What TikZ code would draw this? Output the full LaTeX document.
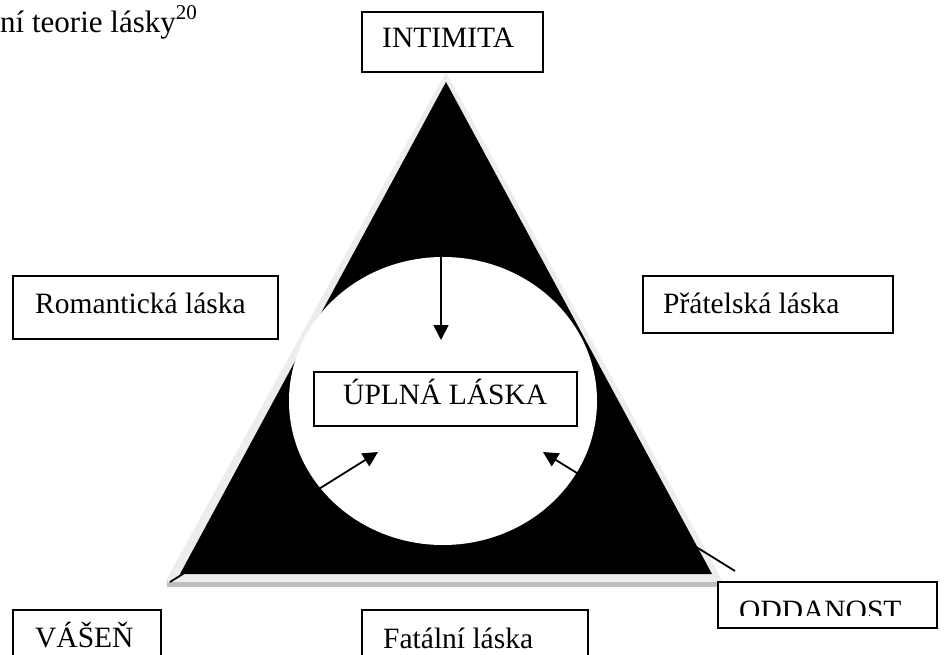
\documentclass[tikz,border=0pt]{standalone}
\usepackage{fontspec}
\setmainfont{Liberation Serif}
\usetikzlibrary{arrows.meta}
\begin{document}
\begin{tikzpicture}[x=1pt,y=-1pt,
  box/.style={draw=black, line width=1.5pt, fill=white, inner sep=0pt, outer sep=0pt, anchor=north west},
  lbl/.style={inner sep=0pt, anchor=base west, font=\fontsize{29.5}{34}\selectfont},
  arr/.style={line width=1.8pt, -{Triangle[length=15pt,width=15pt]}},
  ]
\useasboundingbox (0,0) rectangle (944,655);
\clip (0,0) rectangle (944,655);
% title
\node[anchor=base west, inner sep=0pt, font=\fontsize{31}{36}\selectfont] (title) at (0,33) {ní teorie lásky\raisebox{13pt}{\fontsize{21}{21}\selectfont 20}};
% triangle with shadow
\fill[black!7] (446,72) -- (165,582) -- (723,582) -- cycle;
\fill[black!25] (167,582) rectangle (718,587);
\fill[black] (446,82) -- (180,574) -- (712,574) -- cycle;
\fill[white] (443,401) ellipse [x radius=154pt, y radius=144pt];
% boxes
\node[box, minimum width=181pt, minimum height=60pt] (intimitaBox) at (362,12) {};
\node[lbl] (intimita) at (382,48) {INTIMITA};
\node[box, minimum width=265pt, minimum height=63pt] (romBox) at (13,276) {};
\node[lbl] (rom) at (35,313) {Romantická láska};
\node[box, minimum width=250pt, minimum height=57pt] (pratBox) at (643,276) {};
\node[lbl] (prat) at (663,313) {Přátelská láska};
\node[box, minimum width=263pt, minimum height=54pt] (uplnaBox) at (314,372) {};
\node[lbl] (uplna) at (343,404) {ÚPLNÁ LÁSKA};
\node[box, minimum width=148pt, minimum height=80pt] (vasenBox) at (13,610) {};
\node[lbl] (vasen) at (35,647) {VÁŠEŇ};
\node[box, minimum width=226pt, minimum height=80pt] (fatalBox) at (362,610) {};
\node[lbl] (fatal) at (383,648) {Fatální láska};
\node[box, minimum width=219pt, minimum height=46pt] (oddBox) at (718,582) {};
\begin{scope}
\clip (718,582) rectangle (937,615);
\node[lbl] (odd) at (739,620) {ODDANOST};
\end{scope}
% arrows
\coordinate (topStart) at (441,95);
\coordinate (tipT) at (441,340);
\coordinate (vasenEnd) at (170,582);
\coordinate (tipL) at (378,452);
\coordinate (oddEnd) at (735,571);
\coordinate (tipR) at (543,452);
\draw[arr] (topStart) -- (tipT);
\draw[arr] (vasenEnd) -- (tipL);
\draw[arr] (oddEnd) -- (tipR);
\end{tikzpicture}
\end{document}
